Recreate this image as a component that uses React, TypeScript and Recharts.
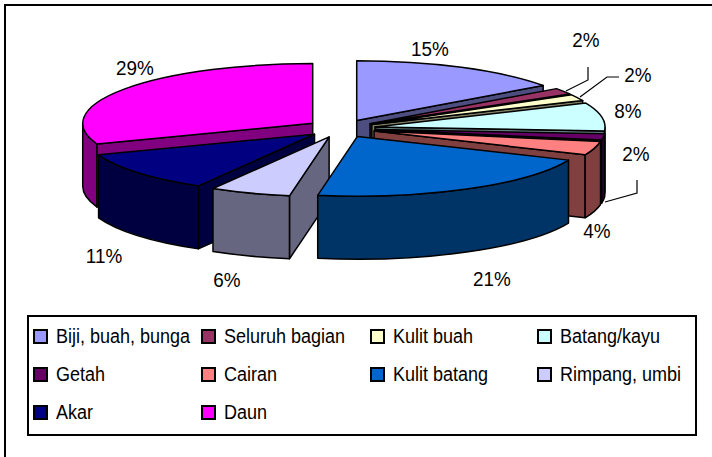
import { PieChart, Pie, Legend } from 'recharts'

const names = ['Biji, buah, bunga', 'Seluruh bagian', 'Kulit buah', 'Batang/kayu', 'Getah', 'Cairan', 'Kulit batang', 'Rimpang, umbi', 'Akar', 'Daun']
const values = [15, 1.7, 1.7, 7.6, 1.7, 3.7, 21.2, 5.65, 10.95, 30.5]
const percentLabels = ['15%', '2%', '2%', '8%', '2%', '4%', '21%', '6%', '11%', '29%']
const topColors = ['#9999FF', '#993366', '#FFFFCC', '#CCFFFF', '#660066', '#FF8080', '#0066CC', '#CCCCFF', '#000080', '#FF00FF']
const sideColors = ['#4D4D80', '#4D1A33', '#808066', '#668080', '#330033', '#804040', '#003366', '#666680', '#000040', '#800080']

const data = names.map((name, i) => ({ name, value: values[i] }))

// back to front
const drawOrder = [9, 0, 1, 2, 3, 4, 5, 8, 7, 6]

const labelSpots = [[430, 49], [586, 40], [638, 75], [628, 111], [636, 154], [597, 231], [492, 279], [227, 280], [104, 256], [135, 68]]
const leaders: Record<number, string> = {
  1: '566,91 588,80 588,67',
  2: '580,97 607,77 619,77',
  4: '605,202 637,193 637,180',
}

const FONT = '"Liberation Sans", Arial, sans-serif'
const SQUASH = 0.26
const DEPTH = 63
const EXPLODE = 0.15

const rad = (d: number) => (d * Math.PI) / 180

function Wedge(props: any) {
  const { cx, cy, outerRadius, startAngle, endAngle, name } = props
  const i = names.indexOf(name)
  const a = outerRadius
  const b = outerRadius * SQUASH
  const t0 = 90 - startAngle
  const t1 = 90 - endAngle
  const mid = rad((t0 + t1) / 2)
  const vx = cx + EXPLODE * a * Math.sin(mid)
  const vy = cy - EXPLODE * b * Math.cos(mid)
  const px = (t: number) => vx + a * Math.sin(rad(t))
  const py = (t: number) => vy - b * Math.cos(rad(t))
  const large = t1 - t0 > 180 ? 1 : 0

  const top = `M${vx},${vy} L${px(t0)},${py(t0)} A${a},${b} 0 ${large} 1 ${px(t1)},${py(t1)} Z`
  const radial = (t: number) =>
    `M${vx},${vy} L${px(t)},${py(t)} L${px(t)},${py(t) + DEPTH} L${vx},${vy + DEPTH} Z`

  const walls: string[] = []
  if (Math.sin(rad(t0)) < -0.001) walls.push(radial(t0))
  if (Math.sin(rad(t1)) > 0.001) walls.push(radial(t1))
  const f0 = Math.max(t0, 90)
  const f1 = Math.min(t1, 270)
  if (f1 > f0) {
    walls.push(
      `M${px(f0)},${py(f0)} A${a},${b} 0 0 1 ${px(f1)},${py(f1)} L${px(f1)},${py(f1) + DEPTH} A${a},${b} 0 0 0 ${px(f0)},${py(f0) + DEPTH} Z`,
    )
  }

  return (
    <g>
      {walls.map((d, k) => (
        <path key={k} d={d} fill={sideColors[i]} stroke="#000" strokeWidth={1.5} strokeLinejoin="round" />
      ))}
      <path d={top} fill={topColors[i]} stroke="#000" strokeWidth={1.5} strokeLinejoin="round" />
    </g>
  )
}

function PercentLabel(props: any) {
  const i = props.index
  return (
    <g>
      {leaders[i] && <polyline points={leaders[i]} fill="none" stroke="#000" strokeWidth={1.2} />}
      <text
        transform={`translate(${labelSpots[i][0]},${labelSpots[i][1]}) scale(0.9,1)`}
        textAnchor="middle"
        dominantBaseline="central"
        fontFamily={FONT}
        fontSize={21}
        fill="#000"
      >
        {percentLabels[i]}
      </text>
    </g>
  )
}

function LegendBox() {
  return (
    <div
      style={{
        position: 'absolute',
        left: 27,
        top: 315,
        width: 666,
        height: 117,
        border: '2px solid #000',
        boxSizing: 'content-box',
        fontFamily: FONT,
        fontSize: 20,
        color: '#000',
      }}
    >
      {names.map((name, i) => (
        <div
          key={name}
          style={{
            position: 'absolute',
            left: [4, 172, 341, 508][i % 4],
            top: 6 + 38 * Math.floor(i / 4),
            height: 26,
            display: 'flex',
            alignItems: 'center',
            whiteSpace: 'nowrap',
          }}
        >
          <span style={{ width: 11, height: 11, border: '2px solid #000', background: topColors[i], marginRight: 8, display: 'inline-block' }} />
          <span style={{ display: 'inline-block', transform: 'scaleX(0.9)', transformOrigin: 'left center' }}>{name}</span>
        </div>
      ))}
    </div>
  )
}

export default function App() {
  return (
    <div style={{ position: 'absolute', left: 0, top: 0, width: 712, height: 457, background: '#fff', overflow: 'hidden' }}>
      <div style={{ position: 'absolute', left: 4, top: 4, width: 708, height: 2, background: '#000' }} />
      <div style={{ position: 'absolute', left: 4, top: 4, width: 2, height: 453, background: '#000' }} />
      <PieChart width={712} height={457} margin={{ top: 0, right: 0, bottom: 0, left: 0 }} style={{ position: 'absolute', left: 0, top: 0 }}>
        {drawOrder.map((idx) => (
          <Pie
            key={idx}
            data={data}
            dataKey="value"
            nameKey="name"
            cx={341}
            cy={128.5}
            outerRadius={230}
            startAngle={90}
            endAngle={-270}
            isAnimationActive={false}
            stroke="none"
            shape={(p: any) => (p.name === names[idx] ? <Wedge {...p} /> : <g />)}
          />
        ))}
        <Pie
          data={data}
          dataKey="value"
          cx={341}
          cy={128.5}
          outerRadius={230}
          startAngle={90}
          endAngle={-270}
          isAnimationActive={false}
          shape={() => <g />}
          label={(p: any) => <PercentLabel {...p} />}
          labelLine={false}
        />
        <Legend content={() => <LegendBox />} wrapperStyle={{ position: 'absolute', left: 0, top: 0, width: 0, height: 0 }} />
      </PieChart>
    </div>
  )
}
